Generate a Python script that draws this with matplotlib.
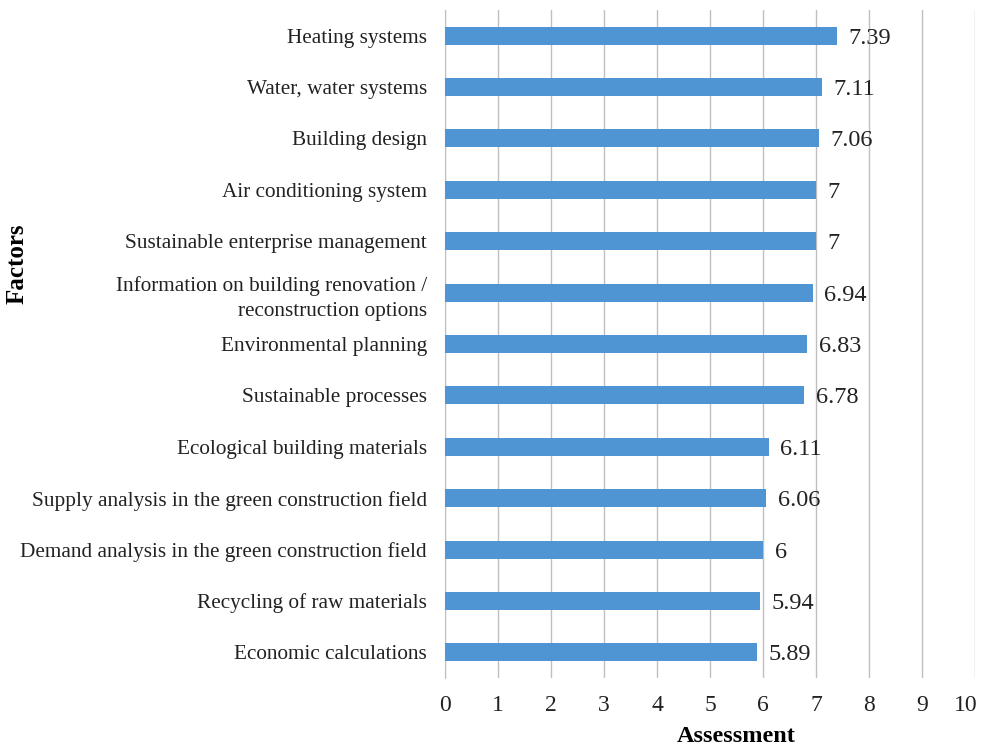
import matplotlib.pyplot as plt
import matplotlib.transforms as mtransforms

plt.rcParams['font.family'] = ['Liberation Serif', 'DejaVu Serif']

factors = [
    "Heating systems",
    "Water, water systems",
    "Building design",
    "Air conditioning system",
    "Sustainable enterprise management",
    "Information on building renovation /\nreconstruction options",
    "Environmental planning",
    "Sustainable processes",
    "Ecological building materials",
    "Supply analysis in the green construction field",
    "Demand analysis in the green construction field",
    "Recycling of raw materials",
    "Economic calculations",
]
scores = [7.39, 7.11, 7.06, 7, 7, 6.94, 6.83, 6.78, 6.11, 6.06, 6, 5.94, 5.89]
score_labels = ["7.39", "7.11", "7.06", "7", "7", "6.94", "6.83", "6.78",
                "6.11", "6.06", "6", "5.94", "5.89"]

fig = plt.figure(figsize=(9.81, 7.48), dpi=100)
ax = fig.add_axes([0.4536, 0.0936, 0.5403, 0.893])

pos = list(range(len(factors)))[::-1]
ax.barh(pos, scores, height=0.35, color='#5095D3', zorder=3)

for y, v, lab in zip(pos, scores, score_labels):
    ax.text(v + 0.22, y, lab, va='center_baseline', ha='left', fontsize=17.5,
            color='#222222')

ax.set_xlim(0, 10)
ax.set_ylim(-0.5, len(factors) - 0.5)
ax.set_xticks(range(11))
ax.set_yticks(pos)
ax.set_yticklabels(factors, fontsize=15.3, color='#222222', linespacing=1.45)
ax.tick_params(axis='y', length=0, pad=13)
ax.tick_params(axis='x', length=0, pad=12, labelsize=17, labelcolor='#222222')
ax.grid(axis='x', color='#BFBFBF', lw=1, zorder=0)
for s in ['top', 'right', 'bottom']:
    ax.spines[s].set_visible(False)
ax.spines['left'].set_color('#BFBFBF')

# last tick label sits a bit left of its gridline, as in the original
fig.canvas.draw()
last = ax.get_xticklabels()[-1]
last.set_transform(last.get_transform() +
                   mtransforms.ScaledTranslation(-0.09, 0, fig.dpi_scale_trans))

fig.text(0.75, 0.002, 'Assessment', fontsize=17.5, fontweight='bold',
         ha='center', va='bottom')
fig.text(0.017, 0.647, 'Factors', rotation=90, fontsize=18, fontweight='bold',
         va='center', ha='center')

plt.savefig('out.png', dpi=100)
